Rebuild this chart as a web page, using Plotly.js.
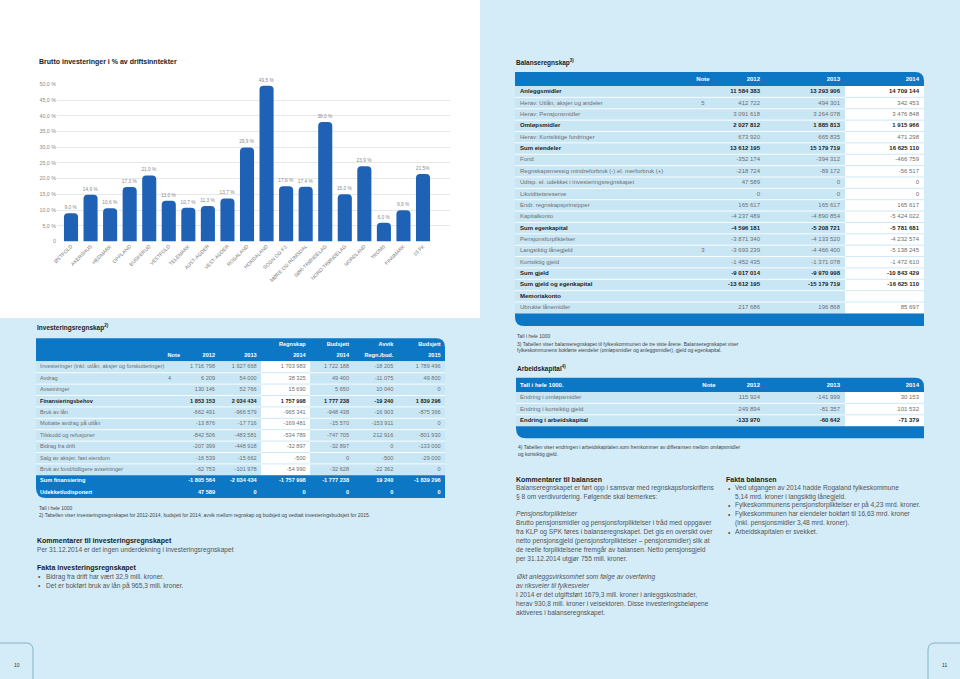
<!DOCTYPE html>
<html><head><meta charset="utf-8">
<script src="https://cdn.plot.ly/plotly-3.0.1.min.js"></script>
<style>html,body{margin:0;padding:0;background:#d3ecf8;}#chart{width:960px;height:679px;}</style>
</head><body><div id="chart"></div>
<script>
const FONT = '"Liberation Sans", Arial, sans-serif';
const W = 960, H = 679;

// ---------------- Bar chart data ----------------
const regions = ['ØSTFOLD','AKERSHUS','HEDMARK','OPPLAND','BUSKERUD','VESTFOLD','TELEMARK','AUST-AGDER','VEST-AGDER','ROGALAND','HORDALAND','SOGN OG FJ.','MØRE OG ROMSDAL','SØR-TRØNDELAG','NORD-TRØNDELAG','NORDLAND','TROMS','FINNMARK','19 FK'];
const investPct = [9.0, 14.9, 10.6, 17.3, 21.0, 13.0, 10.7, 11.3, 13.7, 29.9, 49.5, 17.6, 17.4, 38.0, 15.0, 23.9, 6.0, 9.9, 21.5];
const investPctLabels = ['9,0 %','14,9 %','10,6 %','17,3 %','21,0 %','13,0 %','10,7 %','11,3 %','13,7 %','29,9 %','49,5 %','17,6 %','17,4 %','38,0 %','15,0 %','23,9 %','6,0 %','9,9 %','21,5%'];
const pctTickVals = [0,5,10,15,20,25,30,35,40,45,50];
const pctTickText = ['0','5,0 %','10,0 %','15,0 %','20,0 %','25,0 %','30,0 %','35,0 %','40,0 %','45,0 %','50,0 %'];

// ---------------- Balanseregnskap ----------------
const balanseHeader = ['Note','2012','2013','2014'];
const balanseLabels = ['Anleggsmidler','Herav: Utlån, aksjer og andeler','Herav: Pensjonsmidler','Omløpsmidler','Herav: Kortsiktige fordringer','Sum eiendeler','Fond','Regnskapsmessig mindreforbruk (-) el. merforbruk (+)','Udisp. el. udekket i investeringsregnskapet','Likviditetsreserve','Endr. regnskapsprinsipper','Kapitalkonto','Sum egenkapital','Pensjonsforpliktelser','Langsiktig lånegjeld','Kortsiktig gjeld','Sum gjeld','Sum gjeld og egenkapital','Memoriakonto','Ubrukte lånemidler'];
const balanseNotes = ['','5','','','','','','','','','','','','','3','','','','',''];
const balanse2012 = [11584383, 412722, 3091618, 2027812, 673920, 13612195, -352174, -218724, 47589, 0, 165617, -4237489, -4596181, -3871340, -3693239, -1452435, -9017014, -13612195, null, 217686];
const balanse2013 = [13293906, 494301, 3264078, 1885813, 665835, 15179719, -394312, -89172, 0, 0, 165617, -4890854, -5208721, -4133520, -4466400, -1371078, -9970998, -15179719, null, 196868];
const balanse2014 = [14709144, 342453, 3476848, 1915966, 471298, 16625110, -466759, -56517, 0, 0, 165617, -5424022, -5781681, -4232574, -5138245, -1472610, -10843429, -16625110, null, 85697];
const balanseBoldRows = [0, 3, 5, 12, 16, 17, 18];

// ---------------- Investeringsregnskap ----------------
const invHeadTop = ['', '', '', 'Regnskap', 'Budsjett', 'Avvik', 'Budsjett'];
const invHeadBottom = ['Note', '2012', '2013', '2014', '2014', 'Regn./bud.', '2015'];
const invLabels = ['Investeringer (inkl. utlån, aksjer og forskutteringer)','Avdrag','Avsetninger','Finansieringsbehov','Bruk av lån','Mottatte avdrag på utlån','Tilskudd og refusjoner','Bidrag fra drift','Salg av aksjer, fast eiendom','Bruk av fond/tidligere avsetninger','Sum finansiering','Udekket/udisponert'];
const invNotes = ['','4','','','','','','','','','',''];
const inv2012 = [1716798, 6209, 130146, 1853153, -662491, -13876, -842506, -207399, -16539, -62753, -1805564, 47589];
const inv2013 = [1927668, 54000, 52766, 2034434, -966579, -17716, -483581, -448918, -15662, -101978, -2034434, 0];
const inv2014 = [1703983, 38325, 15690, 1757998, -965341, -169481, -534789, -32897, -500, -54990, -1757998, 0];
const invBud2014 = [1722188, 49400, 5650, 1777238, -948438, -15570, -747705, -32897, 0, -32628, -1777238, 0];
const invAvvik = [-18205, -11075, 10040, -19240, -16903, -153911, 212916, 0, -500, -22362, 19240, 0];
const invBud2015 = [1789496, 49800, 0, 1839296, -875366, 0, -801930, -133000, -29000, 0, -1839296, 0];
const invBoldRows = [3];
const invSumRows = [10, 11];

// ---------------- Arbeidskapital ----------------
const arbHeader = ['Tall i hele 1000.', 'Note', '2012', '2013', '2014'];
const arbLabels = ['Endring i omløpsmidler', 'Endring i kortsiktig gjeld', 'Endring i arbeidskapital'];
const arb2012 = [115924, 249894, -133970];
const arb2013 = [-141999, -81357, -60642];
const arb2014 = [30153, 101532, -71379];
const arbBoldRows = [2];

// ---------------- helpers ----------------
const BLUE = '#0b77c5', PAGE = '#d3ecf8', CELL = '#c9e6f5', GREY = '#6e6e6e', DARK = '#1d1d1d';
const traces = [], shapes = [], annotations = [];

function fmt(v) {
  if (v === null || v === undefined) return '';
  const s = Math.abs(v).toString().replace(/\B(?=(\d{3})+(?!\d))/g, ' ');
  return (v < 0 ? '-' : '') + s;
}
function px(x) { return x / W; }
function py(y) { return 1 - y / H; }
function P(s) {
  const t = s.trim().split(/\s+/); const out = []; let isX = true;
  for (const tok of t) {
    if (/^[A-Za-z]$/.test(tok)) { out.push(tok); isX = true; }
    else { const v = parseFloat(tok); out.push(isX ? px(v).toFixed(5) : py(v).toFixed(5)); isX = !isX; }
  }
  return out.join(' ');
}
function rect(x0, y0, x1, y1, fill) {
  shapes.push({type: 'rect', xref: 'paper', yref: 'paper', x0: px(x0), x1: px(x1), y0: py(y1), y1: py(y0), fillcolor: fill, line: {width: 0}, layer: 'below'});
}
function path(s, fill, lineColor, lw) {
  shapes.push({type: 'path', xref: 'paper', yref: 'paper', path: P(s), fillcolor: fill || 'rgba(0,0,0,0)', line: {width: lw || 0, color: lineColor || 'rgba(0,0,0,0)'}, layer: 'below'});
}
function hline(x0, x1, y, color, w) {
  shapes.push({type: 'line', xref: 'paper', yref: 'paper', x0: px(x0), x1: px(x1), y0: py(y), y1: py(y), line: {color: color, width: w || 0.8}, layer: 'below'});
}
function ann(x, y, text, size, color, opts) {
  annotations.push(Object.assign({xref: 'paper', yref: 'paper', x: px(x), y: py(y), text: text, showarrow: false, xanchor: 'left', yanchor: 'middle', align: 'left', borderpad: 0, font: {family: FONT, size: size, color: color}}, opts || {}));
}
// a column of table text, placed through the full-page pixel axes (x2/y2); empty cells are skipped
function textColumn(texts, x, ys, pos, size, colors) {
  const keep = texts.map((t, i) => i).filter(i => texts[i] !== '' && texts[i] !== null);
  const col = Array.isArray(colors) ? keep.map(i => colors[i]) : colors;
  traces.push({type: 'scatter', mode: 'text', x: keep.map(() => x), y: keep.map(i => ys[i]), text: keep.map(i => texts[i]), textposition: pos,
    textfont: {family: FONT, size: size, color: col}, xaxis: 'x2', yaxis: 'y2', hoverinfo: 'skip', cliponaxis: false, showlegend: false});
}
function rowYs(n, top, rowH) { return Array.from({length: n}, (_, i) => top + (i + 0.5) * rowH); }
function styled(vals, boldRows, f) {
  return vals.map((v, i) => { const s = f ? f(v) : v; return boldRows.includes(i) && s !== '' ? '<b>' + s + '</b>' : s; });
}

// ---------------- page backgrounds ----------------
rect(0, 0, 480, 318, '#ffffff');
// page number tabs
path('M 0 643 L 26 643 Q 33 643 33 650 L 33 679', null, '#6fa7b8', 0.8);
path('M 960 643 L 935 643 Q 928 643 928 650 L 928 679', null, '#6fa7b8', 0.8);
ann(16.5, 665, '10', 5, '#333', {xanchor: 'center'});
ann(944, 665, '11', 5, '#333', {xanchor: 'center'});

// ---------------- bar chart ----------------
traces.push({type: 'bar', x: regions, y: investPct, text: investPctLabels, textposition: 'outside', constraintext: 'none', cliponaxis: false,
  textfont: {family: FONT, size: 4.8, color: '#8a8a8a'}, marker: {color: '#1f62b5', cornerradius: 4}, hoverinfo: 'skip', xaxis: 'x', yaxis: 'y', showlegend: false});
ann(38, 62, '<b>Brutto investeringer i % av driftsinntekter</b>', 7, DARK);

// ---------------- Balanseregnskap table ----------------
(function () {
  const x0 = 515, x1 = 924, hTop = 72, hBot = 86, rowH = 11.37, n = balanseLabels.length, wx = 845;
  const bot = hBot + n * rowH;
  ann(515, 62, '<b>Balanseregnskap<sup>3)</sup></b>', 6.5, DARK);
  path(`M ${x0} ${hTop} L ${x1 - 9} ${hTop} Q ${x1} ${hTop} ${x1} ${hTop + 9} L ${x1} ${hBot} L ${x0} ${hBot} Z`, BLUE);
  rect(x0, hBot, wx, bot, CELL);
  rect(wx, hBot, x1, bot, '#ffffff');
  for (let i = 1; i < n; i++) { const y = hBot + i * rowH; hline(x0, wx, y, '#ffffff', 0.9); hline(wx, x1, y, CELL, 0.9); }
  path(`M ${x0} ${bot} L ${x1} ${bot} L ${x1} ${bot + 12.5} L ${x0 + 9} ${bot + 12.5} Q ${x0} ${bot + 12.5} ${x0} ${bot + 3.5} Z`, BLUE);
  const hy = [(hTop + hBot) / 2 + 0.5];
  textColumn(['<b>' + balanseHeader[0] + '</b>'], 703, hy, 'middle center', 6, '#ffffff');
  textColumn(['<b>' + balanseHeader[1] + '</b>'], 760, hy, 'middle left', 6, '#ffffff');
  textColumn(['<b>' + balanseHeader[2] + '</b>'], 840, hy, 'middle left', 6, '#ffffff');
  textColumn(['<b>' + balanseHeader[3] + '</b>'], 919, hy, 'middle left', 6, '#ffffff');
  const ys = rowYs(n, hBot, rowH);
  const cols = balanseLabels.map((_, i) => balanseBoldRows.includes(i) ? DARK : GREY);
  textColumn(styled(balanseLabels, balanseBoldRows), 520, ys, 'middle right', 6, cols);
  textColumn(balanseNotes, 703, ys, 'middle center', 6, GREY);
  textColumn(styled(balanse2012, balanseBoldRows, fmt), 760, ys, 'middle left', 6, cols);
  textColumn(styled(balanse2013, balanseBoldRows, fmt), 840, ys, 'middle left', 6, cols);
  textColumn(styled(balanse2014, balanseBoldRows, fmt), 919, ys, 'middle left', 6, cols);
})();

// ---------------- Investeringsregnskap table ----------------
(function () {
  const x0 = 36, x1 = 445, hTop = 338.3, hBot = 361.3, rowH = 11.4, n = invLabels.length;
  const bodyBot = hBot + 10 * rowH, bot = hBot + n * rowH;
  const wx0 = 261, wx1 = 310;
  ann(36, 327, '<b>Investeringsregnskap<sup>2)</sup></b>', 6.5, DARK);
  path(`M ${x0} ${hTop} L ${x1 - 9} ${hTop} Q ${x1} ${hTop} ${x1} ${hTop + 9} L ${x1} ${hBot} L ${x0} ${hBot} Z`, BLUE);
  rect(x0, hBot, x1, bodyBot, CELL);
  rect(wx0, hBot, wx1, bodyBot, '#ffffff');
  for (let i = 1; i < 10; i++) { const y = hBot + i * rowH; hline(x0, wx0, y, '#ffffff', 0.9); hline(wx1, x1, y, '#ffffff', 0.9); hline(wx0, wx1, y, CELL, 0.9); }
  path(`M ${x0} ${bodyBot} L ${x1} ${bodyBot} L ${x1} ${bot} L ${x0 + 10} ${bot} Q ${x0} ${bot} ${x0} ${bot - 10} Z`, BLUE);
  const colX = [180, 215, 256.7, 305.7, 349, 393.3, 440.7];
  const hyTop = [344.2], hyBot = [355.4];
  invHeadTop.forEach((t, j) => { if (t) textColumn(['<b>' + t + '</b>'], colX[j], hyTop, 'middle left', 5.6, '#ffffff'); });
  invHeadBottom.forEach((t, j) => textColumn(['<b>' + t + '</b>'], colX[j], hyBot, 'middle left', 5.6, '#ffffff'));
  const ys = rowYs(n, hBot, rowH);
  const cols = invLabels.map((_, i) => invSumRows.includes(i) ? '#ffffff' : invBoldRows.includes(i) ? DARK : GREY);
  const bold = invBoldRows.concat(invSumRows);
  textColumn(styled(invLabels, bold), 40, ys, 'middle right', 5.6, cols);
  textColumn(invNotes, 169.5, ys, 'middle center', 5.6, GREY);
  [inv2012, inv2013, inv2014, invBud2014, invAvvik, invBud2015].forEach((arr, j) =>
    textColumn(styled(arr, bold, fmt), colX[j + 1], ys, 'middle left', 5.6, cols));
})();

// ---------------- Arbeidskapital table ----------------
(function () {
  const x0 = 516, x1 = 924, hTop = 377.7, hBot = 392, rowH = 11.4, n = arbLabels.length, wx = 845;
  const bot = hBot + n * rowH;
  ann(516, 369, '<b>Arbeidskapital<sup>4)</sup></b>', 6.5, DARK);
  path(`M ${x0} ${hTop} L ${x1 - 9} ${hTop} Q ${x1} ${hTop} ${x1} ${hTop + 9} L ${x1} ${hBot} L ${x0} ${hBot} Z`, BLUE);
  rect(x0, hBot, wx, bot, CELL);
  rect(wx, hBot, x1, bot, '#ffffff');
  for (let i = 1; i < n; i++) { const y = hBot + i * rowH; hline(x0, wx, y, '#ffffff', 0.9); hline(wx, x1, y, CELL, 0.9); }
  path(`M ${x0} ${bot} L ${x1} ${bot} L ${x1} ${bot + 12} L ${x0 + 10} ${bot + 12} Q ${x0} ${bot + 12} ${x0} ${bot + 2} Z`, BLUE);
  const hy = [(hTop + hBot) / 2 + 0.7];
  textColumn(['<b>' + arbHeader[0] + '</b>'], 520, hy, 'middle right', 6, '#ffffff');
  textColumn(['<b>' + arbHeader[1] + '</b>'], 715.7, hy, 'middle left', 6, '#ffffff');
  textColumn(['<b>' + arbHeader[2] + '</b>'], 760, hy, 'middle left', 6, '#ffffff');
  textColumn(['<b>' + arbHeader[3] + '</b>'], 840, hy, 'middle left', 6, '#ffffff');
  textColumn(['<b>' + arbHeader[4] + '</b>'], 919, hy, 'middle left', 6, '#ffffff');
  const ys = rowYs(n, hBot, rowH);
  const cols = arbLabels.map((_, i) => arbBoldRows.includes(i) ? DARK : GREY);
  textColumn(styled(arbLabels, arbBoldRows), 520, ys, 'middle right', 6, cols);
  textColumn(styled(arb2012, arbBoldRows, fmt), 760, ys, 'middle left', 6, cols);
  textColumn(styled(arb2013, arbBoldRows, fmt), 840, ys, 'middle left', 6, cols);
  textColumn(styled(arb2014, arbBoldRows, fmt), 919, ys, 'middle left', 6, cols);
})();

// ---------------- notes and commentary text ----------------
const TXT = '#555555';
ann(37.7, 508.3, 'Tall i hele 1000', 5, '#444');
ann(37.7, 514.7, '2) Tabellen viser investeringsregnskapet for 2012-2014, budsjett for 2014, avvik mellom regnskap og budsjett og vedtatt investeringsbudsjett for 2015.', 5, '#444');
ann(36, 541, '<b>Kommentarer til investeringsregnskapet</b>', 7, DARK);
ann(36, 550, 'Per 31.12.2014 er det ingen underdekning i investeringsregnskapet', 6.6, TXT);
ann(36, 567.7, '<b>Fakta investeringsregnskapet</b>', 7, DARK);
ann(37, 576.7, '•', 6.6, TXT); ann(45, 576.7, 'Bidrag fra drift har vært 32,9 mill. kroner.', 6.6, TXT);
ann(37, 585.7, '•', 6.6, TXT); ann(45, 585.7, 'Det er bokført bruk av lån på 965,3 mill. kroner.', 6.6, TXT);

ann(515.5, 335.7, 'Tall i hele 1000', 5, '#444');
ann(515.5, 343.7, '3) Tabellen viser balanseregnskapet til fylkeskommunen de tre siste årene. Balanseregnskapet viser', 5, '#444');
ann(515.5, 349.7, 'fylkeskommunens bokførte eiendeler (omløpsmidler og anleggsmidler), gjeld og egenkapital.', 5, '#444');
ann(517, 447, '4) Tabellen viser endringen i arbeidskapitalen.som fremkommer av differansen mellom omløpsmidler', 5, '#444');
ann(517, 454.3, 'og kortsiktig gjeld.', 5, '#444');

const leftLines = [
  [479, '<b>Kommentarer til balansen</b>', 7, DARK],
  [488, 'Balanseregnskapet er ført opp i samsvar med regnskapsforskriftens', 6.6, TXT],
  [496.9, '§ 8 om verdivurdering. Følgende skal bemerkes:', 6.6, TXT],
  [514.3, '<i>Pensjonsforpliktelser</i>', 6.6, TXT],
  [523.3, 'Brutto pensjonsmidler og pensjonsforpliktelser i tråd med oppgaver', 6.6, TXT],
  [532.2, 'fra KLP og SPK føres i balanseregnskapet. Det gis en oversikt over', 6.6, TXT],
  [541.1, 'netto pensjonsgjeld (pensjonsforpliktelser – pensjonsmidler) slik at', 6.6, TXT],
  [550.1, 'de reelle forpliktelsene fremgår av balansen. Netto pensjonsgjeld', 6.6, TXT],
  [559.2, 'per 31.12.2014 utgjør 755 mill. kroner.', 6.6, TXT],
  [577, '<i>Økt anleggsvirksomhet som følge av overføring</i>', 6.6, TXT],
  [586, '<i>av riksveier til fylkesveier</i>', 6.6, TXT],
  [594.8, 'I 2014 er det utgiftsført 1679,3 mill. kroner i anleggskostnader,', 6.6, TXT],
  [603.8, 'herav 930,8 mill. kroner i veisektoren. Disse investeringsbeløpene', 6.6, TXT],
  [612.7, 'aktiveres i balanseregnskapet.', 6.6, TXT]
];
leftLines.forEach(l => ann(515, l[0], l[1], l[2], l[3]));
ann(725, 479, '<b>Fakta balansen</b>', 7, DARK);
const factLines = [
  [488, '•', 'Ved utgangen av 2014 hadde Rogaland fylkeskommune'],
  [496.9, '', '5,14 mrd. kroner i langsiktig lånegjeld.'],
  [505.4, '•', 'Fylkeskommunens pensjonsforpliktelser er på 4,23 mrd. kroner.'],
  [514.3, '•', 'Fylkeskommunen har eiendeler bokført til 16,63 mrd. kroner'],
  [523.2, '', '(inkl. pensjonsmidler 3,48 mrd. kroner).'],
  [532.1, '•', 'Arbeidskapitalen er svekket.']
];
factLines.forEach(l => { if (l[1]) ann(726.5, l[0], l[1], 6.6, TXT); ann(734, l[0], l[2], 6.6, TXT); });

// ---------------- layout ----------------
const layout = {
  width: W, height: H, margin: {l: 0, r: 0, t: 0, b: 0, pad: 0},
  paper_bgcolor: PAGE, plot_bgcolor: 'rgba(0,0,0,0)', showlegend: false,
  font: {family: FONT},
  bargap: 0.28,
  xaxis: {domain: [57 / W, 450 / W], range: [-0.716, 19.38], type: 'category', tickangle: -45,
    tickfont: {family: FONT, size: 5, color: '#777'}, showgrid: false, zeroline: false, showline: false, ticks: '',
    fixedrange: true, automargin: false, anchor: 'y'},
  yaxis: {domain: [py(241.5), py(84.3)], range: [0, 50], tickvals: pctTickVals, ticktext: pctTickText,
    tickfont: {family: FONT, size: 5.3, color: '#8a8a8a'}, gridcolor: '#e2e2e2', gridwidth: 0.8, zeroline: false,
    showline: false, ticks: '', fixedrange: true, automargin: false, anchor: 'x'},
  xaxis2: {domain: [0, 1], range: [0, W], visible: false, anchor: 'y2', fixedrange: true},
  yaxis2: {domain: [0, 1], range: [H, 0], visible: false, anchor: 'x2', fixedrange: true},
  shapes: shapes, annotations: annotations
};
Plotly.newPlot('chart', traces, layout, {staticPlot: true, displayModeBar: false});
</script></body></html>
